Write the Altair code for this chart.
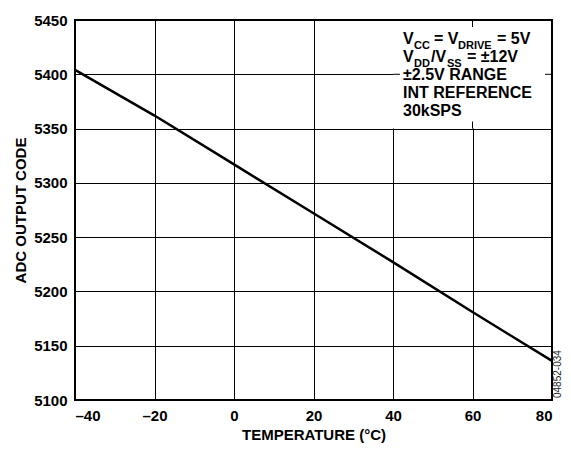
import altair as alt
import pandas as pd

# data
temps = [-40, -20, 0, 20, 40, 60, 80]
codes = [5404, 5362, 5317, 5272, 5227, 5181, 5136]
x_ticks = [-40, -20, 0, 20, 40, 60, 80]
y_ticks = [5100, 5150, 5200, 5250, 5300, 5350, 5400, 5450]

FONT = "Liberation Sans"
W, H = 477, 380

df = pd.DataFrame({"t": temps, "code": codes})

xs = alt.Scale(domain=[-40, 80], nice=False, zero=False)
ys = alt.Scale(domain=[5100, 5450], nice=False, zero=False)

base = alt.Chart(df)

line = base.mark_line(color="black", strokeWidth=2.5).encode(
    x=alt.X("t:Q", scale=xs, title="TEMPERATURE (°C)",
            axis=alt.Axis(values=x_ticks, grid=True, ticks=False, domain=False,
                          labelExpr="datum.value < 0 ? '–' + abs(datum.value) : datum.label",
                          labelPadding=8, titlePadding=4)),
    y=alt.Y("code:Q", scale=ys, title="ADC OUTPUT CODE",
            axis=alt.Axis(values=y_ticks, grid=True, ticks=False, domain=False, format="d",
                          labelPadding=8, titlePadding=5)),
)

# legend box (white, covering grid cells)
box_df = pd.DataFrame({"x1": [40], "x2": [80], "y1": [5350], "y2": [5450]})
box = alt.Chart(box_df).mark_rect(fill="white").encode(
    x=alt.X("x1:Q", scale=xs), x2="x2:Q",
    y=alt.Y("y1:Q", scale=ys), y2="y2:Q",
)

# small inward ticks at the box edges
stub_df = pd.DataFrame({
    "x1": [60, 60, 40, 78.24],
    "x2": [60, 60, 41.76, 80],
    "y1": [5443.55, 5350, 5400, 5400],
    "y2": [5450, 5356.45, 5400, 5400],
})
stubs = alt.Chart(stub_df).mark_rule(color="black", strokeWidth=1).encode(
    x=alt.X("x1:Q", scale=xs), x2="x2:Q",
    y=alt.Y("y1:Q", scale=ys), y2="y2:Q",
)

# plot frame
frame = alt.Chart(pd.DataFrame({"x1": [-40], "x2": [80], "y1": [5100], "y2": [5450]})).mark_rect(
    filled=False, stroke="black", strokeWidth=2
).encode(
    x=alt.X("x1:Q", scale=xs), x2="x2:Q",
    y=alt.Y("y1:Q", scale=ys), y2="y2:Q",
)

# legend text segments (pixel positions within the plot area)
seg_text = ["V", "CC", "= V", "DRIVE", "= 5V",
            "V", "DD", "/V", "SS", "= ±12V",
            "±2.5V RANGE", "INT REFERENCE", "30kSPS"]
seg_x = [328, 339, 359, 383, 422,
         328, 339, 356, 372, 392,
         328, 328, 328]
seg_y = [24, 29, 24, 29, 24,
         42, 47, 42, 47, 42,
         60, 78, 96]
seg_size = [16, 11, 16, 11, 16,
            16, 11, 16, 11, 16,
            16, 16, 16]

texts = []
for t, x, y, s in zip(seg_text, seg_x, seg_y, seg_size):
    texts.append(
        alt.Chart(pd.DataFrame({"label": [t]})).mark_text(
            font=FONT, fontWeight="bold", fontSize=s, align="left",
            baseline="alphabetic", color="black"
        ).encode(x=alt.value(x), y=alt.value(y), text="label:N")
    )

code_lbl = alt.Chart(pd.DataFrame({"label": ["04852-034"]})).mark_text(
    font=FONT, fontSize=10, angle=270, align="left", baseline="middle", color="#222222"
).encode(x=alt.value(W + 6), y=alt.value(H - 2), text="label:N")

chart = alt.layer(line, box, stubs, frame, *texts, code_lbl).properties(
    width=W, height=H,
    autosize=alt.AutoSizeParams(type="none"),
    padding={"left": 67, "top": 12, "right": 11, "bottom": 45},
).configure_view(stroke=None).configure_axis(
    labelFont=FONT, labelFontWeight="bold", labelFontSize=15, labelColor="black",
    titleFont=FONT, titleFontWeight="bold", titleFontSize=15, titleColor="black",
    gridColor="black", gridWidth=1, gridOpacity=1,
)

chart.save("out.html", embed_options={"renderer": "svg", "actions": False})
